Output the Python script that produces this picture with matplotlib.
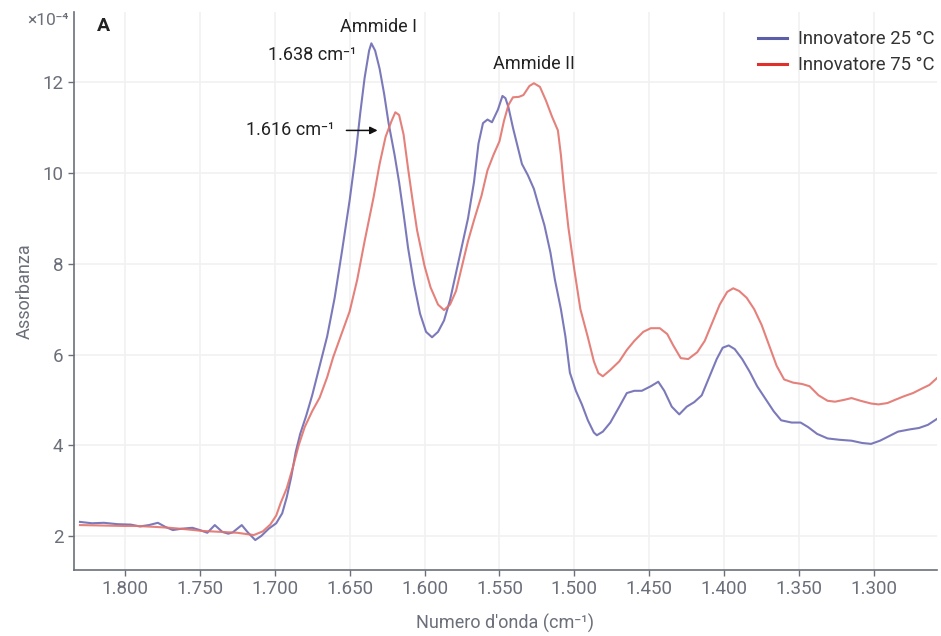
import matplotlib
matplotlib.use('Agg')
import matplotlib.pyplot as plt
from matplotlib.ticker import FuncFormatter

plt.rcParams['font.family'] = ['Roboto', 'DejaVu Sans']

# wavenumber (cm-1) and absorbance (x10^-4)
wn_25 = [1830, 1822, 1814, 1805, 1796, 1790, 1784, 1778, 1773, 1768, 1762, 1755, 1750, 1745,
         1740, 1735, 1731, 1728, 1722, 1718, 1713, 1709, 1704, 1699, 1695, 1692, 1689, 1686,
         1683, 1679, 1675, 1670, 1665, 1660, 1655, 1650, 1646, 1643, 1640, 1637, 1635.5, 1633,
         1630, 1627, 1624, 1620, 1617, 1614, 1611, 1607, 1603, 1599, 1595, 1591, 1587, 1583,
         1579, 1575, 1571, 1567, 1564, 1561, 1558, 1555, 1551, 1548, 1546, 1544, 1541, 1538,
         1535, 1531, 1527, 1524, 1520, 1516, 1513, 1509, 1506, 1503, 1499, 1495, 1491, 1487,
         1485, 1481, 1476, 1470, 1465, 1460, 1455, 1449, 1444, 1440, 1435, 1430, 1425, 1420,
         1415, 1410, 1405, 1401, 1397, 1393, 1388, 1383, 1378, 1372, 1367, 1362, 1355, 1349,
         1344, 1338, 1331, 1323, 1315, 1308, 1302, 1296, 1290, 1284, 1276, 1270, 1264, 1258]
abs_25 = [2.31, 2.28, 2.29, 2.26, 2.25, 2.21, 2.24, 2.29, 2.20, 2.13, 2.16, 2.18, 2.13, 2.07,
          2.24, 2.09, 2.05, 2.08, 2.24, 2.08, 1.91, 2.00, 2.16, 2.28, 2.50, 2.85, 3.30, 3.85,
          4.25, 4.65, 5.10, 5.75, 6.40, 7.25, 8.30, 9.40, 10.40, 11.30, 12.10, 12.70, 12.86, 12.70,
          12.30, 11.75, 11.10, 10.40, 9.80, 9.10, 8.35, 7.55, 6.90, 6.50, 6.38, 6.50, 6.75, 7.20,
          7.80, 8.40, 9.00, 9.80, 10.65, 11.10, 11.18, 11.12, 11.40, 11.70, 11.65, 11.45, 11.00, 10.60,
          10.20, 9.95, 9.65, 9.30, 8.85, 8.25, 7.65, 7.00, 6.40, 5.60, 5.20, 4.90, 4.55, 4.28,
          4.22, 4.30, 4.50, 4.85, 5.15, 5.20, 5.20, 5.30, 5.40, 5.20, 4.85, 4.68, 4.85, 4.95,
          5.10, 5.50, 5.90, 6.15, 6.20, 6.12, 5.90, 5.62, 5.30, 5.00, 4.75, 4.55, 4.50, 4.50,
          4.40, 4.25, 4.15, 4.12, 4.10, 4.05, 4.03, 4.10, 4.20, 4.30, 4.35, 4.38, 4.45, 4.58]

wn_75 = [1830, 1815, 1800, 1792, 1780, 1770, 1760, 1748, 1736, 1725, 1714, 1708, 1703, 1699,
         1696, 1692, 1688, 1684, 1680, 1675, 1670, 1665, 1661, 1656, 1650, 1645, 1640, 1634,
         1630, 1626, 1622, 1619.5, 1617, 1614, 1611, 1608, 1605, 1600, 1596, 1591, 1587, 1583,
         1579, 1575, 1571, 1567, 1562, 1558, 1554, 1550, 1547, 1544, 1541, 1537, 1534, 1530,
         1527, 1523, 1519, 1515, 1511, 1509, 1507, 1504, 1500, 1496, 1491, 1487, 1484, 1481,
         1476, 1470, 1465, 1460, 1454, 1449, 1443, 1438, 1434, 1429, 1424, 1418, 1413, 1408,
         1403, 1398, 1394, 1390, 1385, 1380, 1375, 1370, 1365, 1360, 1354, 1348, 1343, 1337,
         1331, 1326, 1320, 1315, 1309, 1302, 1297, 1291, 1286, 1280, 1274, 1268, 1263, 1258]
abs_75 = [2.24, 2.23, 2.22, 2.22, 2.20, 2.18, 2.15, 2.11, 2.09, 2.07, 2.02, 2.10, 2.25, 2.45,
          2.73, 3.05, 3.50, 4.00, 4.40, 4.75, 5.05, 5.50, 5.94, 6.40, 6.95, 7.64, 8.50, 9.47,
          10.20, 10.80, 11.15, 11.34, 11.28, 10.85, 10.10, 9.40, 8.74, 7.95, 7.48, 7.10, 6.98, 7.10,
          7.40, 7.95, 8.50, 8.96, 9.50, 10.06, 10.40, 10.70, 11.15, 11.50, 11.67, 11.68, 11.72, 11.92,
          11.98, 11.90, 11.60, 11.25, 10.94, 10.40, 9.70, 8.80, 7.86, 7.00, 6.38, 5.85, 5.59, 5.52,
          5.66, 5.85, 6.10, 6.30, 6.50, 6.58, 6.58, 6.45, 6.20, 5.92, 5.90, 6.05, 6.30, 6.70,
          7.10, 7.38, 7.46, 7.40, 7.25, 7.00, 6.65, 6.20, 5.75, 5.45, 5.38, 5.35, 5.30, 5.10,
          4.98, 4.96, 5.00, 5.04, 4.98, 4.92, 4.90, 4.93, 5.00, 5.08, 5.15, 5.25, 5.33, 5.48]

x_ticks = [1800, 1750, 1700, 1650, 1600, 1550, 1500, 1450, 1400, 1350, 1300]
y_ticks = [2, 4, 6, 8, 10, 12]

grey = '#6b6f7a'
blue = '#6d6bb3'
red = '#e2736d'

fig = plt.figure(figsize=(9.41, 6.36), dpi=100)
ax = fig.add_axes([0.0786, 0.1038, 0.9171, 0.8773])

ax.plot(wn_25, abs_25, color=blue, lw=1.5, alpha=0.9, label='Innovatore 25 °C')
ax.plot(wn_75, abs_75, color=red, lw=1.5, alpha=0.9, label='Innovatore 75 °C')

ax.set_xlim(1834, 1258)
ax.set_ylim(1.25, 13.55)
ax.set_xticks(x_ticks)
ax.set_yticks(y_ticks)
ax.xaxis.set_major_formatter(FuncFormatter(lambda v, p: '{:,.0f}'.format(v).replace(',', '.')))

# faint grid
ax.grid(True, color='#f1f1f1', lw=1.2)
ax.set_axisbelow(True)

for s in ['top', 'right']:
    ax.spines[s].set_visible(False)
for s in ['left', 'bottom']:
    ax.spines[s].set_color(grey)
    ax.spines[s].set_linewidth(1.2)
ax.tick_params(colors=grey, labelsize=13.5, length=4, width=1)

ax.set_xlabel("Numero d'onda (cm⁻¹)", color=grey, fontsize=13, labelpad=11)
ax.set_ylabel('Assorbanza', color=grey, fontsize=13, labelpad=6)

ax.text(-0.006, 0.985, '×10⁻⁴', transform=ax.transAxes, ha='right', va='center',
        color=grey, fontsize=12.5)
ax.text(0.027, 0.975, 'A', transform=ax.transAxes, ha='left', va='center',
        fontsize=14, fontweight='bold', color='#222222')

# annotations
txt = '#222222'
ax.text(1631, 13.23, 'Ammide I', ha='center', va='center', fontsize=13, color=txt)
ax.text(1527, 12.4, 'Ammide II', ha='center', va='center', fontsize=13, color=txt)
ax.text(1645.5, 12.6, '1.638 cm⁻¹', ha='right', va='center', fontsize=13, color=txt)
ax.text(1660, 10.94, '1.616 cm⁻¹', ha='right', va='center', fontsize=13, color=txt)
ax.annotate('', xy=(1629.5, 10.94), xytext=(1654, 10.94),
            arrowprops=dict(arrowstyle='-|>', color='#111111', lw=1.1, mutation_scale=11))

leg = ax.legend(loc='upper right', bbox_to_anchor=(1.017, 0.997), frameon=False, fontsize=13.3,
                handlelength=1.6, handletextpad=0.6, labelspacing=0.42)
leg.get_lines()[0].set_color('#5b5ea8')
leg.get_lines()[1].set_color('#e0302c')
for l in leg.get_lines():
    l.set_alpha(1)
    l.set_linewidth(2.2)
for t in leg.get_texts():
    t.set_color('#333333')

fig.savefig('out.png', dpi=100)
